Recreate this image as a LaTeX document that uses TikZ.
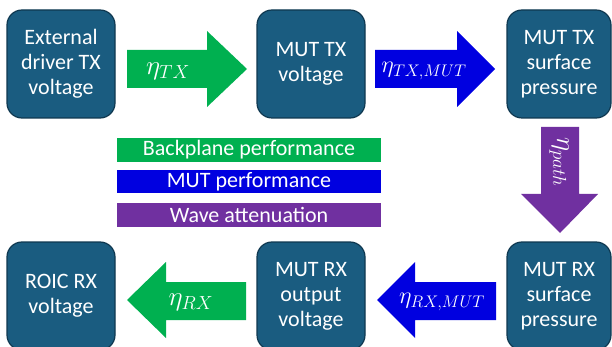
\RequirePackage{fix-cm}
\documentclass[tikz,border=0pt]{standalone}
\usepackage{fontspec}
\setsansfont{Carlito}
\definecolor{boxfill}{HTML}{1A5C80}
\definecolor{boxborder}{HTML}{0F3850}
\definecolor{gr}{HTML}{00B050}
\definecolor{bl}{HTML}{0000E0}
\definecolor{pu}{HTML}{7030A0}
\begin{document}
\begin{tikzpicture}[x=1pt,y=-1pt,
  box/.style={draw=boxborder, line width=1.2pt, fill=boxfill, rounded corners=15pt,
    minimum width=108pt, minimum height=108pt, inner sep=0pt, text=white, align=center,
    font=\sffamily\fontsize{22}{25}\selectfont},
  lbl/.style={text=white, inner sep=0pt, font=\fontsize{27}{30}\selectfont},
  lbll/.style={text=white, inner sep=0pt, font=\fontsize{24}{28}\selectfont},
  bar/.style={minimum width=264pt, minimum height=24pt, inner sep=0pt, text=white,
    font=\sffamily\fontsize{22}{25}\selectfont}]
\useasboundingbox (0,0) rectangle (612,347);
\clip (0,0) rectangle (612,347);
% boxes
\node[box] (ext) at (61,64) {External\\driver TX\\voltage};
\node[box] (muttxv) at (311,64) {MUT TX\\voltage};
\node[box, minimum width=104pt] (muttxp) at (559,64) {MUT TX\\surface\\pressure};
\node[box] (roic) at (61,296) {ROIC RX\\voltage};
\node[box] (mutrxo) at (311,296) {MUT RX\\output\\voltage};
\node[box, minimum width=104pt] (mutrxp) at (559,296) {MUT RX\\surface\\pressure};
% block arrows
\fill[gr] (127,50) -- (207,50) -- (207,31) -- (247,69) -- (207,107) -- (207,88) -- (127,88) -- cycle;
\node[lbl] (etatx) at (168,71) {$\eta_{TX}$};
\fill[bl] (375,50) -- (457,50) -- (457,31) -- (495,69) -- (457,107) -- (457,88) -- (375,88) -- cycle;
\node[lbll] (etatxmut) at (424,71) {$\eta_{TX,MUT}$};
\fill[pu] (541,127) -- (579,127) -- (579,194) -- (598,194) -- (560,233) -- (521,194) -- (541,194) -- cycle;
\node[lbl, rotate=-90] (etapath) at (559,162) {$\eta_{path}$};
\fill[gr] (246,282) -- (166,282) -- (166,262) -- (127,300) -- (166,338) -- (166,320) -- (246,320) -- cycle;
\node[lbl] (etarx) at (191,302) {$\eta_{RX}$};
\fill[bl] (496,282) -- (415,282) -- (415,262) -- (377,300) -- (415,338) -- (415,320) -- (496,320) -- cycle;
\node[lbll] (etarxmut) at (442,302) {$\eta_{RX,MUT}$};
% legend
\node[bar, fill=gr] (lg1) at (249,150) {Backplane performance};
\node[bar, fill=bl, minimum height=23pt] (lg2) at (249,181.5) {MUT performance};
\node[bar, fill=pu] (lg3) at (249,215) {Wave attenuation};
\end{tikzpicture}
\end{document}
